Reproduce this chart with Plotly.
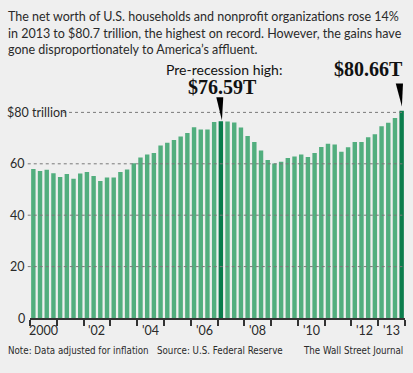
import plotly.graph_objects as go

# ---- data ----
years = list(range(2000, 2014))
quarters = [1, 2, 3, 4]
net_worth = [
    58.0, 57.2, 57.7, 56.3,   # 2000
    54.9, 56.0, 54.2, 56.2,   # 2001
    56.8, 55.3, 53.3, 54.7,   # 2002
    54.7, 56.8, 57.8, 60.2,   # 2003
    62.5, 63.6, 64.2, 67.1,   # 2004
    68.2, 69.3, 70.6, 72.0,   # 2005
    74.2, 73.3, 73.3, 76.3,   # 2006
    76.59, 76.5, 76.1, 74.1,  # 2007
    70.8, 68.5, 65.2, 61.5,   # 2008
    60.1, 60.8, 62.3, 62.8,   # 2009
    63.6, 62.6, 64.2, 66.5,   # 2010
    67.8, 67.5, 64.7, 66.4,   # 2011
    68.5, 68.5, 70.3, 71.5,   # 2012
    74.6, 76.0, 77.8, 80.66,  # 2013
]
y_ticks = [0, 20, 40, 60, 80]
y_tick_labels = ["0", "20", "40", "60", "$80 trillion"]
x_label_years = [2000, 2002, 2004, 2006, 2008, 2010, 2012, 2013]
x_label_text = ["2000", "'02", "'04", "'06", "'08", "'10", "'12", "'13"]

title_lines = ["The net worth of U.S. households and nonprofit organizations rose 14%",
               "in 2013 to $80.7 trillion, the highest on record. However, the gains have",
               "gone disproportionately to America\u2019s affluent."]
note_text = "Note: Data adjusted for inflation"
source_text = "Source: U.S. Federal Reserve"
credit_text = "The Wall Street Journal"
peak_label = "Pre-recession high:"

# ---- derived ----
x = [y + (q - 0.5) / 4 for y in years for q in quarters]
pre_idx = max(range(36), key=lambda i: net_worth[i])
last_idx = len(net_worth) - 1
light = "#52ae7e"
dark = "#0a7d4c"
colors = [dark if i in (pre_idx, last_idx) else light for i in range(len(x))]

BG = "#efefef"
TXT = "#2a2a2a"
SANS = "Lato"
NARROW = "DejaVu Sans Condensed"
SERIF = "Liberation Serif"

fig = go.Figure()
fig.add_trace(go.Bar(x=x, y=net_worth, marker=dict(color=colors, line=dict(width=0)),
                     hoverinfo="skip"))

shapes = []
for v in y_ticks[1:]:
    x0 = 0.088 if v == 80 else -0.006
    shapes.append(dict(type="line", xref="paper", yref="y", x0=x0, x1=0.993, y0=v, y1=v,
                       line=dict(color="#7a7a7a", width=1, dash="dot"), layer="above"))

def wedge(i, top, tip, left, right, tipoff):
    cx = x[i]
    return dict(type="path", xref="x", yref="y",
                path=f"M {cx-left} {top} L {cx+right} {top} L {cx+tipoff} {tip} Z",
                fillcolor="#000", line=dict(width=0), layer="above")

pv = net_worth[pre_idx]
lv = net_worth[last_idx]
shapes.append(wedge(pre_idx, pv + 9.3, pv + 0.3, 0.17, 0.09, 0.04))
shapes.append(wedge(last_idx, lv + 10.6, lv + 1.6, 0.22, 0.05, 0.01))

ann = []
for k, line in enumerate(title_lines):
    ann.append(dict(text=line, xref="paper", yref="paper", x=0, y=1, xshift=-24,
                    yshift=61 - 16.5 - 16.7 * k, xanchor="left", yanchor="middle", align="left",
                    showarrow=False, font=dict(family=SANS, size=12.5, color=TXT)))
for v, t in zip(y_ticks, y_tick_labels):
    if v == 80:
        ann.append(dict(text=t, xref="paper", yref="y", x=0, y=v, xanchor="left", xshift=-25,
                        showarrow=False, font=dict(family=SANS, size=12.5, color=TXT)))
    else:
        ann.append(dict(text=t, xref="paper", yref="y", x=0, y=v, xanchor="right", xshift=-3,
                        showarrow=False, font=dict(family=SANS, size=12.5, color=TXT)))
for yy, t in zip(x_label_years, x_label_text):
    ann.append(dict(text=t, xref="x", yref="paper", x=yy + 0.5, y=0, yanchor="top", yshift=-3,
                    showarrow=False, font=dict(family=SANS, size=12.5, color=TXT)))
ann.append(dict(text=peak_label, xref="x", yref="y", x=x[pre_idx], y=96.8, xshift=3,
                showarrow=False, font=dict(family=SANS, size=14, color="#111")))
ann.append(dict(text=f"${pv:.2f}T", xref="x", yref="y", x=x[pre_idx], y=90.0, xshift=2,
                showarrow=False, font=dict(family=SERIF, size=20, color="#111", weight="bold")))
ann.append(dict(text=f"${lv:.2f}T", xref="x", yref="y", x=x[last_idx], y=96.8, xanchor="right",
                xshift=3, showarrow=False,
                font=dict(family=SERIF, size=20, color="#111", weight="bold")))
ann.append(dict(text=note_text, xref="paper", yref="paper", x=0, y=0, xshift=-24, yshift=-32,
                xanchor="left", yanchor="middle", showarrow=False,
                font=dict(family=NARROW, size=9.7, color=TXT)))
ann.append(dict(text=source_text, xref="paper", yref="paper", x=0, y=0, xshift=125, yshift=-32,
                xanchor="left", yanchor="middle", showarrow=False,
                font=dict(family=NARROW, size=9.7, color=TXT)))
ann.append(dict(text=credit_text, xref="paper", yref="paper", x=1, y=0, xshift=0, yshift=-32,
                xanchor="right", yanchor="middle", showarrow=False,
                font=dict(family=NARROW, size=9.7, color=TXT)))

fig.update_layout(
    width=413, height=373,
    margin=dict(l=30, r=8, t=61, b=55),
    paper_bgcolor=BG, plot_bgcolor=BG,
    bargap=0.34, showlegend=False,
    shapes=shapes, annotations=ann,
    xaxis=dict(range=[2000, 2014], showgrid=False, zeroline=False,
               showline=True, linecolor="#333", linewidth=1.5,
               tickvals=list(range(2000, 2015)), ticktext=[""] * 15,
               ticks="outside", ticklen=6, tickcolor="#333", tickwidth=1.5),
    yaxis=dict(range=[0, 100], showgrid=False, zeroline=False, showticklabels=False,
               showline=False, ticks=""),
)

fig.write_html("out.html", config={"displayModeBar": False},
               post_script="document.body.style.margin='0';document.body.style.background='#efefef';")
